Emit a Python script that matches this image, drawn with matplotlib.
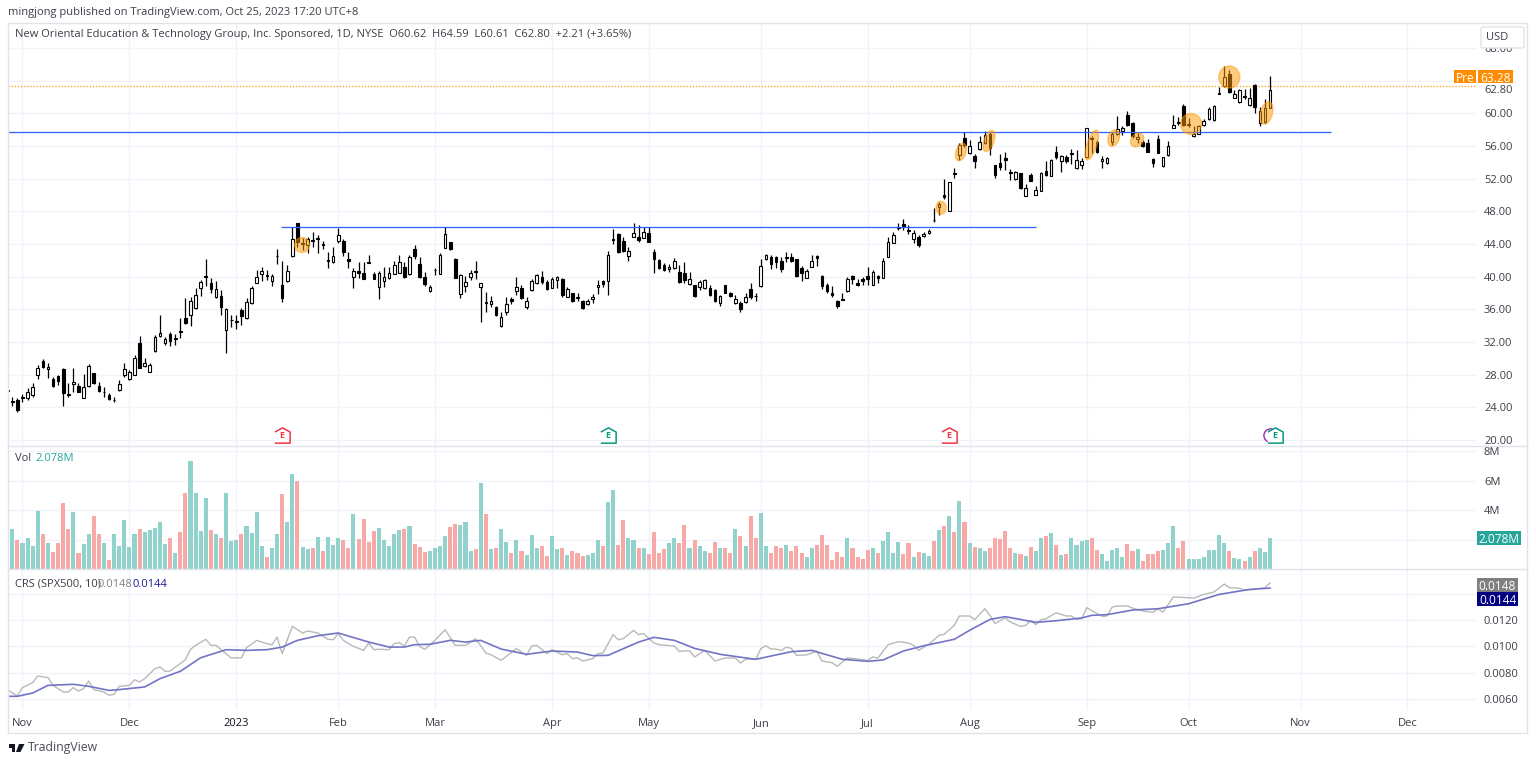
import matplotlib
matplotlib.use("Agg")
import matplotlib.pyplot as plt
import numpy as np
from matplotlib.patches import Ellipse, FancyBboxPatch, Polygon, Rectangle
from matplotlib.transforms import IdentityTransform, blended_transform_factory

W, H = 1536, 763

opens = [
    26.13, 24.79, 24.91, 25.15, 25.11, 25.52, 27.97, 29.64, 28.66, 27.44,
    27.85, 28.70, 25.64, 26.87, 26.66, 25.20, 26.62, 28.17, 26.62, 25.93,
    25.48, 24.95, 26.13, 28.01, 27.48, 28.01, 31.85, 29.03, 28.38, 30.87,
    32.74, 31.85, 33.03, 32.50, 33.40, 34.99, 35.35, 36.17, 38.58, 40.09,
    39.19, 37.56, 37.64, 33.48, 34.74, 34.50, 35.88, 34.91, 36.78, 39.27,
    40.29, 40.09, 39.52, 42.50, 38.95, 39.52, 42.54, 46.53, 44.08, 43.88,
    44.41, 44.62, 44.00, 42.05, 41.84, 44.33, 44.41, 42.17, 39.96, 40.74,
    40.41, 41.72, 40.33, 38.70, 39.43, 39.80, 40.37, 40.50, 41.23, 40.37,
    43.39, 41.56, 40.01, 38.21, 40.78, 40.37, 43.55, 44.25, 42.17, 37.92,
    38.86, 39.92, 40.70, 38.74, 36.86, 36.66, 36.33, 33.92, 35.72, 37.23,
    38.21, 38.66, 36.33, 38.37, 39.19, 39.92, 39.39, 38.66, 39.60, 39.72,
    37.56, 37.97, 37.56, 37.03, 36.70, 37.23, 38.70, 39.43, 39.48, 44.66,
    45.23, 44.33, 42.54, 44.90, 44.90, 44.78, 45.31, 42.98, 42.05, 41.43,
    40.90, 41.07, 40.58, 40.41, 39.15, 38.99, 38.74, 38.58, 38.62, 38.37,
    36.78, 38.99, 38.05, 36.82, 36.82, 36.95, 38.46, 37.60, 38.82, 42.13,
    42.45, 42.41, 41.88, 42.41, 42.37, 42.13, 41.02, 39.88, 41.23, 42.53,
    40.08, 39.02, 37.96, 36.98, 37.31, 38.21, 40.08, 39.19, 39.72, 40.04,
    39.02, 40.04, 39.88, 42.46, 44.09, 46.05, 46.46, 45.64, 44.66, 44.91,
    44.95, 45.31, 46.95, 48.50, 49.97, 48.09, 52.58, 54.90, 56.94, 55.11,
    54.78, 55.64, 56.41, 57.47, 53.64, 53.96, 54.49, 52.86, 51.92, 52.66,
    49.92, 52.45, 50.01, 50.50, 52.94, 52.37, 55.23, 54.13, 54.62, 55.15,
    53.27, 53.68, 54.70, 57.02, 56.53, 54.17, 53.88, 56.53, 57.47, 57.88,
    59.80, 58.78, 56.82, 56.53, 56.33, 54.45, 56.90, 53.51, 54.86, 58.21,
    58.94, 60.94, 58.66, 57.19, 57.51, 58.61, 59.23, 59.14, 62.53, 63.27,
    64.82, 61.92, 61.35, 62.12, 61.02, 63.47, 58.78, 58.98, 60.62,
]
highs = [
    26.30, 25.24, 25.11, 25.64, 26.34, 26.95, 29.19, 29.89, 29.40, 27.77,
    27.97, 28.79, 26.95, 28.79, 27.03, 28.09, 29.27, 28.25, 27.11, 26.46,
    25.81, 25.32, 27.32, 29.40, 28.58, 30.42, 32.74, 30.01, 29.40, 32.86,
    35.31, 32.66, 33.23, 32.95, 34.91, 37.35, 37.56, 38.66, 39.60, 42.13,
    39.80, 39.48, 38.37, 36.21, 35.31, 35.31, 36.13, 37.35, 38.90, 40.82,
    41.15, 40.82, 40.33, 43.39, 41.88, 41.43, 46.13, 46.53, 44.70, 44.82,
    45.43, 45.11, 44.41, 42.98, 43.60, 45.96, 44.58, 42.98, 41.03, 41.84,
    41.84, 42.66, 40.62, 40.74, 41.15, 41.23, 41.96, 42.66, 41.84, 42.66,
    43.88, 42.37, 40.62, 38.99, 41.03, 42.86, 46.13, 44.29, 42.25, 40.33,
    40.09, 40.82, 41.96, 39.19, 38.17, 37.64, 36.41, 35.72, 37.47, 37.56,
    39.92, 38.99, 37.56, 39.68, 40.33, 40.74, 39.60, 39.92, 40.09, 39.80,
    38.70, 38.05, 38.05, 37.15, 37.27, 37.88, 39.60, 39.60, 43.19, 45.84,
    45.31, 44.82, 43.68, 46.62, 46.33, 46.04, 46.13, 43.39, 42.13, 41.64,
    41.51, 42.25, 41.43, 41.76, 40.62, 39.03, 39.60, 39.68, 39.03, 38.46,
    37.76, 39.03, 38.13, 37.76, 37.07, 37.97, 39.19, 38.05, 42.13, 42.78,
    42.66, 42.54, 42.45, 42.98, 42.86, 42.21, 41.35, 40.94, 42.61, 42.69,
    40.16, 39.19, 38.90, 37.14, 38.04, 39.92, 40.21, 39.72, 39.92, 41.23,
    40.82, 40.25, 42.25, 44.91, 45.52, 46.54, 47.07, 46.33, 45.72, 45.11,
    45.40, 45.80, 48.37, 49.19, 51.92, 51.64, 53.35, 56.41, 57.76, 56.74,
    54.98, 57.23, 57.88, 57.64, 53.68, 54.98, 55.31, 53.23, 52.90, 52.66,
    51.35, 52.74, 51.03, 52.86, 54.17, 54.37, 56.00, 54.90, 54.90, 55.60,
    55.51, 54.49, 58.17, 57.23, 56.74, 54.82, 54.62, 57.76, 59.68, 58.45,
    60.21, 58.98, 57.55, 56.74, 56.82, 54.49, 57.31, 54.70, 56.57, 59.80,
    59.51, 61.14, 59.39, 58.45, 58.57, 59.27, 60.82, 60.98, 63.18, 65.80,
    65.31, 62.86, 62.94, 62.94, 63.06, 63.59, 60.74, 61.72, 64.59,
]
lows = [
    25.93, 24.18, 23.48, 24.66, 24.91, 25.32, 27.48, 28.79, 27.56, 26.54,
    26.75, 24.18, 25.32, 25.93, 25.85, 25.11, 26.46, 26.87, 25.93, 25.24,
    24.95, 24.62, 26.05, 27.77, 27.40, 27.93, 28.79, 28.91, 28.34, 30.83,
    32.66, 31.60, 31.56, 31.64, 32.54, 34.17, 34.01, 36.09, 37.64, 38.86,
    37.97, 37.35, 35.35, 30.70, 33.88, 33.64, 34.13, 34.82, 36.70, 39.19,
    39.48, 39.60, 38.90, 41.56, 36.95, 39.39, 42.46, 43.68, 43.27, 42.94,
    43.68, 42.94, 43.35, 41.11, 41.64, 44.08, 42.54, 41.03, 38.66, 39.80,
    39.72, 41.72, 39.68, 37.23, 38.70, 39.68, 40.29, 40.41, 39.80, 40.21,
    42.13, 39.80, 38.86, 38.13, 40.21, 40.29, 43.47, 43.27, 39.80, 37.35,
    38.17, 39.60, 39.72, 34.50, 35.72, 36.25, 35.23, 33.84, 35.31, 36.66,
    37.76, 37.27, 36.05, 38.29, 39.11, 39.11, 38.41, 38.58, 38.58, 37.56,
    37.47, 36.95, 37.07, 36.05, 36.58, 36.74, 37.88, 38.78, 37.76, 43.96,
    42.86, 43.02, 41.96, 44.82, 44.29, 44.70, 44.21, 40.50, 40.94, 40.70,
    40.54, 40.98, 39.27, 39.27, 38.95, 37.56, 38.37, 38.50, 37.64, 36.86,
    36.45, 37.97, 37.56, 36.66, 35.72, 36.82, 37.23, 37.03, 38.78, 42.05,
    40.90, 41.03, 40.62, 41.84, 41.76, 40.01, 39.51, 39.80, 41.14, 41.31,
    38.53, 37.96, 37.55, 36.21, 37.19, 38.13, 39.10, 38.90, 38.98, 39.02,
    38.98, 39.19, 39.84, 42.38, 44.09, 45.72, 45.72, 45.23, 44.09, 43.68,
    44.91, 45.23, 46.74, 47.56, 49.56, 48.05, 52.05, 54.29, 55.92, 55.02,
    53.27, 55.51, 56.25, 54.90, 52.09, 53.07, 53.07, 51.84, 51.84, 50.74,
    49.88, 51.68, 49.97, 50.50, 52.37, 52.33, 54.45, 52.86, 53.88, 53.80,
    53.19, 53.19, 54.62, 55.11, 55.19, 53.27, 53.80, 56.13, 57.35, 57.39,
    58.49, 56.94, 56.33, 55.84, 55.23, 53.47, 55.11, 53.47, 54.78, 58.13,
    58.53, 58.49, 58.29, 57.06, 57.43, 58.45, 59.19, 59.10, 62.37, 63.18,
    62.45, 61.84, 61.27, 61.72, 60.94, 60.08, 58.49, 58.86, 60.61,
]
closes = [
    26.05, 24.71, 23.69, 25.24, 25.93, 26.46, 28.78, 28.91, 28.91, 26.66,
    27.28, 25.73, 25.56, 27.07, 25.93, 26.46, 29.07, 27.03, 26.05, 25.85,
    25.03, 24.87, 26.91, 28.70, 28.30, 30.09, 28.87, 29.44, 29.15, 32.66,
    33.15, 32.34, 32.17, 32.42, 33.23, 34.29, 37.03, 37.80, 39.31, 40.01,
    38.46, 38.46, 36.29, 36.01, 34.66, 34.58, 35.19, 36.95, 38.58, 40.01,
    40.74, 40.17, 40.13, 42.58, 37.39, 40.74, 44.58, 44.29, 44.00, 44.66,
    44.49, 44.70, 43.92, 41.96, 42.58, 45.15, 42.98, 41.96, 40.74, 40.41,
    39.76, 41.80, 39.76, 40.41, 40.01, 40.45, 41.43, 41.76, 39.92, 42.37,
    42.54, 39.96, 39.11, 38.70, 40.86, 42.62, 45.19, 43.39, 39.88, 40.17,
    39.31, 40.41, 40.62, 39.19, 36.74, 37.07, 35.31, 35.11, 36.66, 37.07,
    38.78, 37.39, 37.03, 39.48, 40.25, 39.35, 38.50, 39.68, 39.92, 37.76,
    38.54, 37.03, 37.43, 36.17, 37.03, 37.56, 39.03, 39.11, 42.62, 44.49,
    42.98, 43.15, 43.11, 45.31, 44.49, 45.51, 44.29, 42.13, 41.11, 40.78,
    41.23, 41.96, 39.35, 39.60, 39.68, 37.68, 39.39, 39.56, 37.80, 36.99,
    37.64, 38.05, 37.64, 37.31, 36.01, 37.52, 37.47, 37.68, 41.27, 42.62,
    41.51, 41.80, 40.98, 42.33, 41.96, 40.09, 40.49, 40.70, 41.96, 42.29,
    38.86, 38.29, 37.76, 36.45, 37.19, 39.72, 39.67, 38.98, 39.51, 39.72,
    40.61, 39.80, 41.96, 44.21, 45.11, 45.89, 46.25, 45.72, 45.31, 43.89,
    45.23, 45.60, 46.87, 48.86, 49.80, 51.52, 52.66, 56.08, 56.13, 56.00,
    54.09, 56.49, 57.35, 55.72, 52.45, 53.47, 54.25, 52.70, 52.82, 50.82,
    50.90, 51.76, 50.58, 52.74, 52.45, 54.29, 54.62, 54.74, 54.17, 55.02,
    54.25, 54.17, 58.17, 56.82, 55.27, 54.41, 54.49, 57.47, 58.04, 58.25,
    58.57, 57.15, 57.06, 56.00, 55.31, 53.88, 55.19, 54.70, 55.96, 58.53,
    58.78, 58.57, 58.53, 57.47, 58.49, 59.02, 60.49, 60.90, 62.41, 64.41,
    62.57, 62.37, 62.78, 61.96, 61.84, 60.82, 60.21, 60.61, 62.80,
]

volumes = [
    3.29, 2.73, 2.00, 1.73, 2.11, 1.56, 3.91, 2.40, 1.73, 1.18,
    1.78, 4.47, 2.69, 3.84, 1.11, 1.67, 2.36, 3.58, 2.36, 1.73,
    0.62, 2.36, 1.56, 3.29, 1.51, 2.36, 2.69, 2.51, 2.62, 2.80,
    3.22, 1.69, 2.07, 1.11, 2.51, 5.18, 7.29, 5.18, 2.56, 4.80,
    2.62, 2.36, 2.07, 5.13, 1.89, 2.00, 2.40, 2.89, 2.44, 3.84,
    1.56, 0.84, 1.44, 2.40, 5.07, 3.18, 6.47, 5.96, 1.51, 1.33,
    1.40, 2.18, 1.22, 2.18, 1.62, 2.07, 1.96, 1.40, 3.73, 2.02,
    3.36, 1.80, 2.56, 2.80, 1.96, 1.56, 2.36, 2.62, 2.73, 2.89,
    1.69, 1.51, 1.18, 1.22, 1.40, 1.56, 2.22, 2.84, 3.07, 2.96,
    3.18, 1.24, 1.36, 5.80, 3.73, 1.36, 1.40, 2.73, 1.80, 1.07,
    2.00, 1.22, 0.96, 2.29, 1.40, 1.56, 0.89, 2.22, 1.33, 1.44,
    0.96, 1.22, 1.11, 0.89, 0.96, 1.07, 1.96, 1.56, 4.51, 5.36,
    1.62, 3.29, 2.11, 1.96, 1.40, 1.44, 1.00, 2.51, 1.07, 1.33,
    1.73, 2.07, 1.73, 3.00, 1.44, 2.00, 1.56, 1.22, 1.07, 1.84,
    1.40, 1.40, 1.11, 2.73, 2.22, 1.56, 3.56, 2.11, 3.80, 1.56,
    1.07, 1.56, 1.40, 1.62, 1.22, 1.56, 1.11, 0.78, 1.40, 1.62,
    2.29, 1.62, 0.62, 1.18, 0.84, 2.07, 1.44, 0.78, 0.67, 1.29,
    1.40, 1.07, 1.89, 2.51, 1.11, 1.84, 1.00, 1.78, 0.78, 1.18,
    1.11, 0.89, 1.89, 2.67, 2.89, 3.62, 2.51, 4.62, 3.22, 1.78,
    1.51, 1.40, 1.22, 1.44, 2.13, 2.04, 2.56, 1.40, 1.11, 1.00,
    0.89, 1.51, 1.22, 2.07, 2.22, 2.47, 1.62, 0.96, 1.00, 2.13,
    1.62, 1.89, 1.96, 2.07, 1.27, 1.00, 0.51, 1.29, 1.44, 0.78,
    1.69, 1.22, 1.33, 0.56, 1.00, 1.00, 1.22, 1.29, 1.73, 2.89,
    1.44, 1.89, 0.67, 0.67, 0.67, 0.84, 1.29, 1.29, 2.29, 1.73,
    1.22, 0.73, 0.67, 0.56, 0.78, 1.22, 1.40, 1.18, 2.078,
]
# R = down day, T = up day
vol_sides = (
    "RTRTTTTRTR" "RRRTRTTRRT" "RTTTTTRTTT" "TTRTRRTTTT" "RTRTTTRTTT"
    "TRTTRTTRTT" "RTRTTTRRTR" "RRRTTTTTRT" "RRRTTTTRRT" "TTRTRTRTTR"
    "TRTTTRRTTR" "TRRRTTTRTT" "RRTTR"
    "TRRRRTTRRT" "RTTRRTRRTR" "TRRTTRRRTR" "RRTTRRRRRR" "TRRRRTRTTT"
    "TRRTRTTRTR" "TRTRTRTTRR" "RRRTRTRTTR" "TRTRTTTTRR" "TTTTTRRTRR"
    "RRTTTRRTTT" "TTTTTRTTRT" "RTTT"
)

crs_idx = [
    1, 3, 4, 6, 7, 9, 10, 12, 13, 14, 15, 16, 17, 18, 20, 21, 22, 23, 25, 26,
    27, 28, 30, 31, 32, 33, 36, 37, 38, 40, 41, 42, 45, 47, 48, 50, 52, 53, 54, 55,
    57, 59, 60, 62, 64, 65, 66, 67, 69, 71, 72, 73, 74, 76, 77, 78, 79, 80, 81, 82,
    83, 85, 87, 89, 91, 93, 95, 96, 98, 101, 103, 104, 105, 107, 108, 110, 111, 112, 113, 114,
    116, 117, 118, 120, 121, 122, 124,
    125, 126, 128, 129, 132, 133, 135, 136, 138, 140, 142, 144, 145, 146, 148, 149, 150, 151, 152, 153,
    154, 155, 156, 158, 160, 161, 163, 164, 166, 167, 170, 171, 172, 174, 176, 178, 179, 180, 182, 184,
    185, 187, 188, 190, 191, 193, 194, 195, 197, 198, 200, 201, 202, 203, 204, 205, 207, 209, 210, 211,
    212, 213, 216, 217, 218, 219, 221, 222, 224, 226, 227, 228, 230, 233, 234, 236, 238, 240, 241, 243,
    244, 246, 248, 249,
]
crs_vals = [
    .00671, .00623, .00686, .00724, .00774, .00762, .00703, .00653, .00653, .00686,
    .00660, .00678, .00736, .00671, .00653, .00628, .00635, .00696, .00703, .00746,
    .00729, .00754, .00830, .00843, .00810, .00812, .00898, .00977, .01007, .01053,
    .01007, .01007, .00911, .00913, .00989, .01045, .01020, .01012, .01070, .00944,
    .01151, .01101, .01116, .01101, .01053, .01050, .01096, .01045, .00999, .00969,
    .01025, .00974, .00977, .00974, .01020, .01027, .01002, .01070, .01070, .00999,
    .00977, .01045, .01126, .01007, .01007, .01058, .00949, .00936, .00893, .00982,
    .00931, .01002, .01007, .00944, .00974, .00936, .00944, .00906, .00913, .00888,
    .00906, .00944, .00949, .01088, .01050, .01058, .01121,
    .01088, .01096, .01025, .01012, .01002, .00961, .00967, .00919, .00969, .00888,
    .00911, .00911, .00873, .00901, .00901, .00982, .01004, .00979, .00979, .00967,
    .00994, .00984, .00931, .00934, .00964, .00888, .00875, .00848, .00911, .00908,
    .00893, .00919, .00911, .01012, .01035, .01025, .01007, .00969, .01015, .01083,
    .01091, .01159, .01230, .01230, .01202, .01285, .01235, .01172, .01217, .01184,
    .01151, .01159, .01194, .01164, .01202, .01209, .01255, .01230, .01230, .01204,
    .01209, .01293, .01227, .01230, .01298, .01306, .01306, .01290, .01268, .01258,
    .01285, .01260, .01374, .01369, .01366, .01394, .01412, .01473, .01445, .01442,
    .01425, .01432, .01445, .01480,
]
ma_idx = [
    1, 3, 6, 9, 14, 17, 21, 23, 28, 31, 35, 39, 44, 48, 52, 55, 58, 62, 66, 72,
    76, 79, 81, 84, 88, 91, 94, 98, 103, 108, 113, 116, 119, 122, 125,
    128, 132, 136, 141, 148, 155, 159, 165, 170, 173, 177, 181, 187, 190, 194,
    197, 203, 207, 212, 214, 217, 222, 227, 233, 239, 245, 249,
]
ma_vals = [
    .00620, .00620, .00645, .00703, .00711, .00696, .00665, .00671, .00691, .00754,
    .00810, .00913, .00974, .00969, .00974, .00994, .01045, .01080, .01101, .01032,
    .00994, .00994, .01012, .01015, .01045, .01032, .01045, .00979, .00939, .00964,
    .00956, .00929, .00931, .00982, .01032,
    .01068, .01045, .00984, .00939, .00901, .00959, .00969, .00901, .00886, .00896,
    .00964, .01004, .01053, .01121, .01204, .01225, .01182, .01194, .01215, .01235,
    .01240, .01275, .01285, .01323, .01394, .01432, .01442,
]

month_pos = [4, 25, 46, 66, 85, 108, 127, 149, 170, 190, 213, 233, 255, 276]
month_labels = ["Nov", "Dec", "2023", "Feb", "Mar", "Apr", "May", "Jun", "Jul", "Aug", "Sep", "Oct", "Nov", "Dec"]
price_ticks = [20, 24, 28, 32, 36, 40, 44, 48, 52, 56, 60, 64, 68]
vol_ticks = [2, 4, 6, 8]
crs_ticks = [0.006, 0.008, 0.010, 0.012, 0.014]
earn_idx = [55, 119, 186, 250]
earn_colors = ["#f23645", "#089981", "#f23645", "#089981"]

# highlighter marks: candle index, price, width px, height px, angle
marks_idx = [58.9, 184.4, 188.3, 193.8, 214, 218.3, 222.9, 233.5, 241, 248.3]
marks_price = [43.87, 48.43, 55.25, 56.60, 56.11, 56.96, 56.72, 58.68, 64.43, 60.02]
marks_w = [15, 10, 10, 10, 10, 11, 12, 21, 21, 12]
marks_h = [15, 13, 18, 22, 31, 17, 15, 21, 22, 23]
marks_ang = [0, 0, -18, -20, -18, -20, -40, 0, 0, -15]

plt.rcParams["font.family"] = ["Open Sans", "DejaVu Sans"]
TXT = "#3c3f48"
GRID = "#f0f3fa"
SEP = "#e0e3eb"
FS = 8


def fx(px):
    return px / W


def fy(py):
    return 1 - py / H


def pane(top, bottom):
    return fig.add_axes([fx(8), fy(bottom), fx(1477 - 8), (bottom - top) / H])


def tag(x0, x1, y0, y1, color, label, text_color="white", ha="center"):
    fig.add_artist(Rectangle((fx(x0), fy(y1)), fx(x1 - x0), (y1 - y0) / H, transform=fig.transFigure,
                             facecolor=color, edgecolor="none", zorder=6))
    fig.text(fx((x0 + x1) / 2), fy((y0 + y1) / 2), label, color=text_color, fontsize=FS + 0.6,
             ha=ha, va="center_baseline", zorder=7, fontweight="medium")


fig = plt.figure(figsize=(W / 100, H / 100), dpi=100, facecolor="white")
ax_p = pane(23, 446)
ax_v = pane(446, 569)
ax_c = pane(569, 710)

idx = np.arange(1, len(closes) + 1)
o, h, l, c = map(np.array, (opens, highs, lows, closes))
xlim = (1.156, 289.65)

for ax in (ax_p, ax_v, ax_c):
    ax.set_xlim(*xlim)
    ax.set_xticks(month_pos)
    ax.yaxis.tick_right()
    ax.grid(True, color=GRID, linewidth=1)
    ax.set_axisbelow(True)
    ax.tick_params(length=0, labelsize=FS, labelcolor=TXT, pad=5)
    for s in ax.spines.values():
        s.set_visible(False)
    ax.patch.set_alpha(0)

# price pane
ax_p.set_ylim(19.27, 71.04)
ax_p.set_yticks(price_ticks)
ax_p.set_yticklabels(["" if t == 64 else f"{t:.2f}" for t in price_ticks])
ax_p.tick_params(labelbottom=False)
ax_p.vlines(idx, l, h, color="black", linewidth=0.9, zorder=3)
up = c >= o
body_bot = np.minimum(o, c)
body_h = np.maximum(np.abs(c - o), 0.06)
ax_p.bar(idx[up], body_h[up], 0.52, bottom=body_bot[up], facecolor="white", edgecolor="black", linewidth=0.8, zorder=4)
ax_p.bar(idx[~up], body_h[~up], 0.52, bottom=body_bot[~up], facecolor="black", edgecolor="black", linewidth=0.8, zorder=4)

ax_p.hlines(57.7, xlim[0], 261, color="#2962ff", linewidth=0.9, zorder=5)
ax_p.hlines(46.13, 54.8, 203, color="#2962ff", linewidth=0.9, zorder=5)
ax_p.axhline(63.28, color="#ff9800", linewidth=0.9, linestyle=(0, (1, 1.5)), zorder=2)

for mi, mp, mw, mh, ma in zip(marks_idx, marks_price, marks_w, marks_h, marks_ang):
    center = ax_p.transData.transform((mi, mp))
    ax_p.add_patch(Ellipse(center, mw, mh, angle=ma, transform=IdentityTransform(),
                           facecolor="#ff9800", edgecolor="#ff9800", alpha=0.5, linewidth=1, zorder=6))

house = [(-1, -1), (1, -1), (1, 0.45), (0, 1), (-1, 0.45)]
ax_p.plot([249], [20.6], marker="o", markersize=9.5, markerfacecolor="white",
          markeredgecolor="#9c27b0", markeredgewidth=1, linestyle="none", zorder=6)
for ei, ec in zip(earn_idx, earn_colors):
    ax_p.plot([ei], [20.6], marker=house, markersize=11, markerfacecolor="white",
              markeredgecolor=ec, markeredgewidth=1.1, linestyle="none", zorder=7)
    ax_p.text(ei, 20.5, "E", color=ec, fontsize=6.5, fontweight="bold", ha="center", va="center", zorder=8)

right_edge = blended_transform_factory(ax_p.transAxes, ax_p.transData)
ax_p.text(1 + 7 / (1477 - 8), 62.80, "62.80", transform=right_edge, color=TXT, fontsize=FS, va="center", clip_on=False)

# volume pane
ax_v.set_ylim(0, 8.34)
ax_v.set_yticks(vol_ticks)
ax_v.set_yticklabels(["", "4M", "6M", "8M"])
ax_v.tick_params(labelbottom=False)
vol_colors = ["#f7a9a7" if s == "R" else "#92d2cc" for s in vol_sides]
ax_v.bar(idx, volumes, 0.8, color=vol_colors, zorder=3)
ax_v.text(0.0048, 0.90, "Vol", transform=ax_v.transAxes, color=TXT, fontsize=FS, va="center")
ax_v.text(0.0185, 0.90, "2.078M", transform=ax_v.transAxes, color="#26a69a", fontsize=FS, va="center")

# CRS pane
ax_c.set_ylim(0.00516, 0.01587)
ax_c.set_yticks(crs_ticks)
ax_c.set_yticklabels(["0.0060", "0.0080", "0.0100", "0.0120", ""])
ax_c.set_xticklabels(month_labels)
ax_c.tick_params(axis="x", pad=6)
ax_c.get_xticklabels()[2].set_color("#131722")
ax_c.plot(crs_idx, crs_vals, color="#b9b9b9", linewidth=1, zorder=3)
ax_c.plot(ma_idx, ma_vals, color="#7474c6", linewidth=1.2, zorder=4)
ax_c.text(0.0048, 0.893, "CRS (SPX500, 10)", transform=ax_c.transAxes, color=TXT, fontsize=FS, va="center")
ax_c.text(0.0612, 0.893, "0.0148", transform=ax_c.transAxes, color="#808080", fontsize=FS, va="center")
ax_c.text(0.0850, 0.893, "0.0144", transform=ax_c.transAxes, color="#1c1c96", fontsize=FS, va="center")

# frame and pane separators
fig.add_artist(Rectangle((fx(8), fy(733)), fx(1527 - 8), (733 - 23) / H, transform=fig.transFigure,
                         facecolor="none", edgecolor=SEP, linewidth=1, zorder=5))
for sep_y in (446, 569):
    fig.add_artist(plt.Line2D([fx(8), fx(1527)], [fy(sep_y), fy(sep_y)], color=SEP, linewidth=1, zorder=5))

# header and footer text
fig.text(fx(8), fy(12.5), "mingjong published on TradingView.com, Oct 25, 2023 17:20 UTC+8",
         color=TXT, fontsize=FS, va="center")
fig.text(fx(15), fy(35), "New Oriental Education & Technology Group, Inc. Sponsored, 1D, NYSE  O60.62  H64.59  L60.61  C62.80  +2.21 (+3.65%)",
         color=TXT, fontsize=FS, va="center")
fig.text(fx(28), fy(747.5), "TradingView", color="#4a4d57", fontsize=FS + 0.8, va="center")

# logo
fig.add_artist(Rectangle((fx(8.5), fy(748)), fx(6.5), 4 / H, transform=fig.transFigure, facecolor="#131722", edgecolor="none"))
fig.add_artist(Rectangle((fx(11.5), fy(752)), fx(3.5), 8 / H, transform=fig.transFigure, facecolor="#131722", edgecolor="none"))
fig.add_artist(Polygon([(fx(19), fy(744)), (fx(24.5), fy(744)), (fx(20.5), fy(752)), (fx(16), fy(752))],
                       transform=fig.transFigure, facecolor="#131722", edgecolor="none"))

# axis tags and button
fig.add_artist(FancyBboxPatch((fx(1481), fy(48)), fx(43), 21 / H, boxstyle="round,pad=0,rounding_size=0.002",
                              transform=fig.transFigure, facecolor="white", edgecolor=SEP, linewidth=1, zorder=6))
fig.text(fx(1497), fy(37.5), "USD", color=TXT, fontsize=FS, ha="center", va="center", zorder=7)
tag(1454, 1476, 70, 83, "#ff8c00", "Pre")
tag(1478, 1513, 70, 83, "#ff8c00", "63.28")
tag(1477, 1521, 531, 545, "#26a69a", "2.078M")
tag(1477, 1518, 578, 592, "#808080", "0.0148")
tag(1477, 1518, 592, 606, "#000080", "0.0144")

fig.savefig("out.png", dpi=100)
